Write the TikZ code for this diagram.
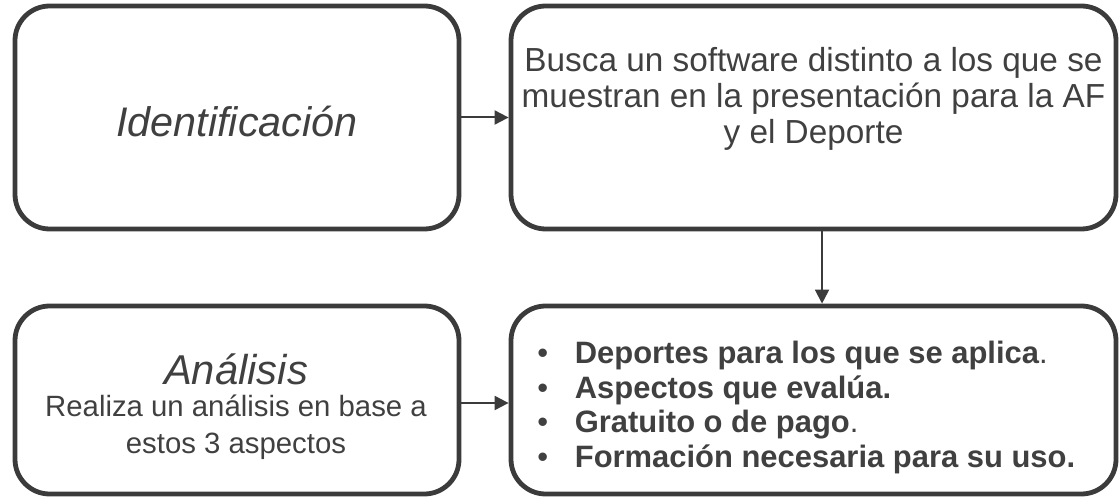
\documentclass[tikz,border=0pt]{standalone}
\usepackage{fontspec}
\setmainfont{Liberation Sans}
\usetikzlibrary{arrows.meta}
\definecolor{edgec}{HTML}{3B3B3B}
\definecolor{txtc}{HTML}{404040}
\begin{document}
\begin{tikzpicture}[x=0.75pt,y=-0.75pt,
  box/.style={draw=edgec,line width=3.6pt,rounded corners=26pt,inner sep=0pt},
  conn/.style={draw=edgec,line width=1.5pt,-{Triangle[length=10.5pt,width=10.5pt]}},
  lbl/.style={text=txtc,align=center,inner sep=0pt}]
\useasboundingbox (0,0) rectangle (1120,498);
\node[box,minimum width=333pt,minimum height=167.25pt] (tl) at (237,117.5) {};
\node[box,minimum width=453.75pt,minimum height=167.25pt] (tr) at (813.5,117.5) {};
\node[box,minimum width=333pt,minimum height=141pt] (bl) at (237,400) {};
\node[box,minimum width=453.75pt,minimum height=141pt] (br) at (813.5,400) {};
% texts
\node[lbl,font=\fontsize{31}{34}\selectfont\itshape] (t1) at (237,121) {Identificación};
\node[lbl,font=\fontsize{25}{27}\selectfont] (t2) at (813.5,98.5) {Busca un software distinto a los que se\\muestran en la presentación para la AF\\y el Deporte};
\node[lbl,font=\fontsize{31.3}{34}\selectfont\itshape] (t3) at (236,369) {Análisis};
\node[lbl,font=\fontsize{22}{28}\selectfont] (t4) at (236,427.5) {Realiza un análisis en base a\\estos 3 aspectos};
\node[lbl,anchor=west,align=left,font=\fontsize{23.2}{26}\selectfont] (t5) at (537,408.5) {%
\begin{tabular}{@{}l@{}}
\makebox[28.2pt][l]{•}\textbf{Deportes para los que se aplica}.\\
\makebox[28.2pt][l]{•}\textbf{Aspectos que evalúa.}\\
\makebox[28.2pt][l]{•}\textbf{Gratuito o de pago}.\\
\makebox[28.2pt][l]{•}\textbf{Formación necesaria para su uso.}
\end{tabular}};
% connectors
\draw[conn] (tl.east) -- (tr.west);
\draw[conn] ([yshift=-2.25pt]bl.east) -- ([yshift=-2.25pt]br.west);
\draw[conn] ([xshift=6.4pt]tr.south) -- ([xshift=6.4pt]br.north);
\end{tikzpicture}
\end{document}
